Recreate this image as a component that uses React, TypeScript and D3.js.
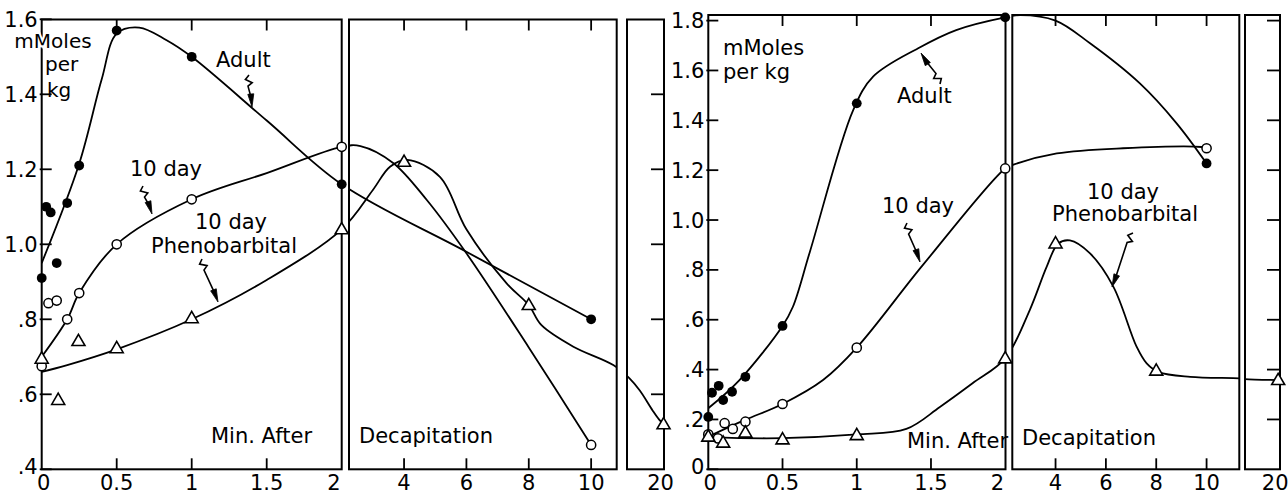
import React from 'react';
import * as d3 from 'd3';

// ---------------- LEFT CHART DATA ----------------
const leftYTicks = [1.6, 1.4, 1.2, 1.0, 0.8, 0.6, 0.4];
const leftYLabels = ['1.6', '1.4', '1.2', '1.0', '.8', '.6', '.4'];
const leftRightTicks = [1.4, 1.2, 1.0, 0.8, 0.6];

const adultL_x = [0, 0.03, 0.06, 0.1, 0.17, 0.25, 0.5, 1, 2, 10];
const adultL_y = [0.91, 1.1, 1.085, 0.95, 1.11, 1.21, 1.57, 1.5, 1.16, 0.8];
const tenL_x = [0, 0.045, 0.1, 0.17, 0.25, 0.5, 1, 2, 10];
const tenL_y = [0.675, 0.843, 0.85, 0.8, 0.87, 1.0, 1.12, 1.26, 0.465];
const phenoL_x = [0, 0.11, 0.245, 0.5, 1, 2, 4, 8, 20];
const phenoL_y = [0.695, 0.585, 0.742, 0.723, 0.803, 1.04, 1.22, 0.838, 0.52];

// fitted curves
const adultL_curve: [number, number][] = [
  [0, 0.95], [0.25, 1.215], [0.4, 1.44], [0.5, 1.562], [0.65, 1.578], [0.83, 1.545], [1, 1.5],
  [1.5, 1.33], [2, 1.16], [6, 0.98], [10, 0.8],
];
const tenL_curve: [number, number][] = [
  [0, 0.7], [0.17, 0.8], [0.25, 0.87], [0.5, 1.0], [1, 1.12], [1.5, 1.19], [2, 1.26],
  [2.6, 1.262], [3.65, 1.217], [4.73, 1.118], [6, 0.976], [8, 0.725], [10, 0.465],
];
const phenoL_curve: [number, number][] = [
  [0, 0.66], [0.17, 0.678], [0.5, 0.72], [1, 0.8], [1.5, 0.905], [2, 1.04],
  [3.0, 1.145], [3.55, 1.207], [4.1, 1.225], [5.15, 1.18], [6, 1.04], [7.29, 0.896], [8, 0.838],
  [8.4, 0.785], [9.43, 0.727], [10.71, 0.678], [16.25, 0.643], [17.4, 0.61], [18.8, 0.557],
  [19.5, 0.533], [20, 0.52],
];

// ---------------- RIGHT CHART DATA ----------------
const rightYTicks = [1.8, 1.6, 1.4, 1.2, 1.0, 0.8, 0.6, 0.4, 0.2, 0];
const rightYLabels = ['1.8', '1.6', '1.4', '1.2', '1.0', '.8', '.6', '.4', '.2', '0'];
const rightRightTicks = [1.8, 1.6, 1.4, 1.2, 1.0, 0.8, 0.6, 0.4, 0.2];

const adultR_x = [0, 0.025, 0.07, 0.1, 0.16, 0.25, 0.5, 1, 2, 10];
const adultR_y = [0.21, 0.307, 0.335, 0.278, 0.311, 0.371, 0.575, 1.468, 1.813, 1.227];
const tenR_x = [0, 0.065, 0.11, 0.165, 0.25, 0.5, 1, 2, 10];
const tenR_y = [0.14, 0.124, 0.185, 0.162, 0.191, 0.262, 0.488, 1.207, 1.288];
const phenoR_x = [0, 0.1, 0.25, 0.5, 1, 2, 4, 8, 20];
const phenoR_y = [0.131, 0.107, 0.147, 0.12, 0.137, 0.445, 0.906, 0.396, 0.358];

const adultR_curve: [number, number][] = [
  [0, 0.245], [0.21, 0.358], [0.5, 0.575], [0.57, 0.652], [0.684, 0.872], [0.976, 1.441],
  [1.11, 1.575], [1.414, 1.689], [1.67, 1.762], [2, 1.813], [2.6, 1.822], [4, 1.8],
  [5.37, 1.709], [7.35, 1.548], [8.81, 1.388], [10, 1.227],
];
const tenR_curve: [number, number][] = [
  [0, 0.131], [0.247, 0.198], [0.5, 0.262], [0.773, 0.358], [1, 0.488], [1.446, 0.82],
  [2, 1.207], [2.33, 1.222], [4.05, 1.267], [6.68, 1.288], [9.8, 1.293], [10, 1.288],
];
const phenoR_curve: [number, number][] = [
  [0, 0.128], [0.5, 0.125], [1, 0.14], [1.334, 0.162], [1.56, 0.25], [1.78, 0.345], [2, 0.445],
  [2.98, 0.64], [3.65, 0.813], [4.1, 0.905], [4.57, 0.918], [5.37, 0.866], [6.3, 0.732],
  [7.22, 0.492], [7.62, 0.425], [8.1, 0.39], [9.35, 0.371], [11.3, 0.365], [16, 0.362], [20, 0.358],
];

// shared x ticks
const p1Ticks = [0, 0.5, 1, 1.5, 2];
const p1Labels = ['0', '0.5', '1', '1.5', '2'];
const p2Ticks = [4, 6, 8, 10];
const p2Labels = ['4', '6', '8', '10'];
const p3Ticks = [20];
const p3Labels = ['20'];

const FONT = 'DejaVu Sans, Liberation Sans, sans-serif';

type Panel = { x0: number; x1: number };

function arrowPath(x1: number, y1: number, x2: number, y2: number) {
  const dx = x2 - x1, dy = y2 - y1;
  const L = Math.hypot(dx, dy);
  const ux = dx / L, uy = dy / L;
  const px = -uy, py = ux;
  const P = (a: number, b: number) => [x1 + ux * a + px * b, y1 + uy * a + py * b];
  const pts = [P(0, 0), P(4, 4), P(8, -2.5), P(11, 2), P(L - 9, 0)];
  const d = 'M' + pts.map((p) => p[0].toFixed(1) + ',' + p[1].toFixed(1)).join('L');
  const tip = P(L, 0), b1 = P(L - 13, 3), b2 = P(L - 13, -3);
  const head = `M${tip[0]},${tip[1]}L${b1[0]},${b1[1]}L${b2[0]},${b2[1]}Z`;
  return { d, head };
}

function Arrow({ a }: { a: [number, number, number, number] }) {
  const { d, head } = arrowPath(a[0], a[1], a[2], a[3]);
  return (
    <g>
      <path d={d} fill="none" stroke="#000" strokeWidth={1.6} />
      <path d={head} fill="#000" stroke="#000" strokeWidth={0.8} />
    </g>
  );
}

function Tri({ x, y }: { x: number; y: number }) {
  const s = 13, h = s * 0.866;
  const d = `M${x},${y - h * 0.6}L${x + s / 2},${y + h * 0.4}L${x - s / 2},${y + h * 0.4}Z`;
  return <path d={d} fill="#fff" stroke="#000" strokeWidth={1.6} strokeLinejoin="miter" />;
}

type TextItem = { t: string; x: number; y: number; anchor?: string; size?: number; halo?: boolean };

type ChartProps = {
  id: string;
  xs: d3.ScaleLinear<number, number>;
  ys: d3.ScaleLinear<number, number>;
  panels: Panel[];
  top: number;
  bottom: number;
  yTicks: number[];
  yLabels: string[];
  rightTicks: number[];
  p2TickVals: number[];
  curves: [number, number][][];
  adult: [number[], number[]];
  ten: [number[], number[]];
  pheno: [number[], number[]];
  texts: TextItem[];
  arrows: [number, number, number, number][];
};

function Chart(p: ChartProps) {
  const { xs, ys, panels, top, bottom } = p;
  const line = d3
    .line<[number, number]>()
    .x((d) => xs(d[0]))
    .y((d) => ys(d[1]))
    .curve(d3.curveCatmullRom.alpha(0.5));
  const yAxisX = panels[0].x0;
  const lastP = panels[2];
  return (
    <g>
      <defs>
        <clipPath id={p.id}>
          {panels.map((pn, i) => (
            <rect key={i} x={pn.x0} y={top - 2} width={pn.x1 - pn.x0} height={bottom - top + 4} />
          ))}
        </clipPath>
      </defs>
      {/* panel frames */}
      {panels.map((pn, i) => (
        <rect key={i} x={pn.x0} y={top} width={pn.x1 - pn.x0} height={bottom - top} fill="none" stroke="#000" strokeWidth={2} />
      ))}
      {/* y ticks left */}
      {p.yTicks.map((v, i) => (
        <g key={i}>
          <line x1={yAxisX - 2} x2={yAxisX + 10} y1={ys(v)} y2={ys(v)} stroke="#000" strokeWidth={1.8} />
          <text
            x={yAxisX - 4}
            y={ys(v) + 7.5 - (i === p.yTicks.length - 1 ? 3 : 0)}
            textAnchor="end"
            fontSize={21}
            fontFamily={FONT}
          >
            {p.yLabels[i]}
          </text>
        </g>
      ))}
      {/* right ticks on panel 3 */}
      {p.rightTicks.map((v, i) => (
        <line key={i} x1={lastP.x1 - 13} x2={lastP.x1} y1={ys(v)} y2={ys(v)} stroke="#000" strokeWidth={1.8} />
      ))}
      {/* x ticks panel 1 */}
      {p1Ticks.map((v, i) => (
        <g key={i}>
          {v > 0 && v < 2 && (
            <>
              <line x1={xs(v)} x2={xs(v)} y1={bottom} y2={bottom - 11} stroke="#000" strokeWidth={1.8} />
              <line x1={xs(v)} x2={xs(v)} y1={top} y2={top + 11} stroke="#000" strokeWidth={1.8} />
            </>
          )}
          <text
            x={v === 2 ? xs(v) - 1 : v === 0 ? xs(v) + 2 : xs(v)}
            y={bottom + 21}
            textAnchor={v === 2 ? 'end' : 'middle'}
            fontSize={21}
            fontFamily={FONT}
          >
            {p1Labels[i]}
          </text>
        </g>
      ))}
      {p.p2TickVals.map((v, i) => (
        <g key={i}>
          <line x1={xs(v)} x2={xs(v)} y1={bottom} y2={bottom - 11} stroke="#000" strokeWidth={1.8} />
          <line x1={xs(v)} x2={xs(v)} y1={top} y2={top + 11} stroke="#000" strokeWidth={1.8} />
          <text x={xs(v)} y={bottom + 21} textAnchor="middle" fontSize={21} fontFamily={FONT}>
            {p2Labels[i]}
          </text>
        </g>
      ))}
      {p3Ticks.map((v, i) => (
        <text key={i} x={xs(v) - 3} y={bottom + 21} textAnchor="middle" fontSize={21} fontFamily={FONT}>
          {p3Labels[i]}
        </text>
      ))}
      {/* curves */}
      <g clipPath={`url(#${p.id})`}>
        {p.curves.map((c, i) => (
          <path key={i} d={line(c) || ''} fill="none" stroke="#000" strokeWidth={1.8} />
        ))}
      </g>
      {/* markers */}
      {p.ten[0].map((x, i) => (
        <circle key={'t' + i} cx={xs(x)} cy={ys(p.ten[1][i])} r={4.6} fill="#fff" stroke="#000" strokeWidth={1.5} />
      ))}
      {p.pheno[0].map((x, i) => (
        <Tri key={'p' + i} x={xs(x)} y={ys(p.pheno[1][i])} />
      ))}
      {p.adult[0].map((x, i) => (
        <circle key={'a' + i} cx={xs(x)} cy={ys(p.adult[1][i])} r={4.9} fill="#000" />
      ))}
      {/* texts */}
      {p.texts.map((t, i) => (
        <text
          key={i}
          x={t.x}
          y={t.y}
          textAnchor={t.anchor || 'start'}
          fontSize={t.size || 21}
          fontFamily={FONT}
          stroke={t.halo ? '#fff' : 'none'}
          strokeWidth={t.halo ? 4 : 0}
          paintOrder="stroke"
        >
          {t.t}
        </text>
      ))}
      {p.arrows.map((a, i) => (
        <Arrow key={i} a={a} />
      ))}
    </g>
  );
}

export default function App() {
  const xL = d3.scaleLinear().domain([0, 2, 10.82, 16, 20.05]).range([41.7, 341.7, 616.7, 627, 664]);
  const yL = d3.scaleLinear().domain([0.4, 1.6]).range([469.3, 19.3]);
  const xR = d3.scaleLinear().domain([0, 2, 11.3, 16, 20.1]).range([708.3, 1005.2, 1239.3, 1245, 1279]);
  const yR = d3.scaleLinear().domain([0, 1.8]).range([469.3, 20.6]);

  return (
    <svg width={1288} height={498} style={{ position: 'absolute', left: 0, top: 0, background: '#fff' }}>
      <rect x={0} y={0} width={1288} height={498} fill="#fff" />
      <Chart
        id="clipL"
        xs={xL}
        ys={yL}
        panels={[{ x0: 41.7, x1: 341.7 }, { x0: 349, x1: 616.7 }, { x0: 627, x1: 664 }]}
        top={19.5}
        bottom={469.3}
        yTicks={leftYTicks}
        yLabels={leftYLabels}
        rightTicks={leftRightTicks}
        p2TickVals={p2Ticks}
        curves={[adultL_curve, tenL_curve, phenoL_curve]}
        adult={[adultL_x, adultL_y]}
        ten={[tenL_x, tenL_y]}
        pheno={[phenoL_x, phenoL_y]}
        texts={[
          { t: 'mMoles', x: 53, y: 48, anchor: 'middle', size: 20, halo: true },
          { t: 'per', x: 45, y: 71, size: 20 },
          { t: 'kg', x: 47, y: 97, size: 20 },
          { t: 'Adult', x: 216, y: 67 },
          { t: '10 day', x: 130, y: 176 },
          { t: '10 day', x: 195, y: 229 },
          { t: 'Phenobarbital', x: 151, y: 253 },
          { t: 'Min. After', x: 211, y: 443 },
          { t: 'Decapitation', x: 359, y: 443 },
        ]}
        arrows={[
          [249, 75, 252, 107],
          [143, 186, 152, 214],
          [202, 259, 218, 302],
        ]}
      />
      <Chart
        id="clipR"
        xs={xR}
        ys={yR}
        panels={[{ x0: 708.3, x1: 1005.5 }, { x0: 1012.3, x1: 1239.3 }, { x0: 1245, x1: 1280 }]}
        top={15}
        bottom={469.3}
        yTicks={rightYTicks}
        yLabels={rightYLabels}
        rightTicks={rightRightTicks}
        p2TickVals={p2Ticks}
        curves={[adultR_curve, tenR_curve, phenoR_curve]}
        adult={[adultR_x, adultR_y]}
        ten={[tenR_x, tenR_y]}
        pheno={[phenoR_x, phenoR_y]}
        texts={[
          { t: 'mMoles', x: 723, y: 55 },
          { t: 'per kg', x: 723, y: 79 },
          { t: 'Adult', x: 897, y: 103 },
          { t: '10 day', x: 882, y: 213 },
          { t: '10 day', x: 1087, y: 199 },
          { t: 'Phenobarbital', x: 1052, y: 221 },
          { t: 'Min. After', x: 907, y: 448 },
          { t: 'Decapitation', x: 1022, y: 445 },
        ]}
        arrows={[
          [940, 84, 921, 53],
          [907, 223, 920, 262],
          [1133, 233, 1112, 287],
        ]}
      />
    </svg>
  );
}
